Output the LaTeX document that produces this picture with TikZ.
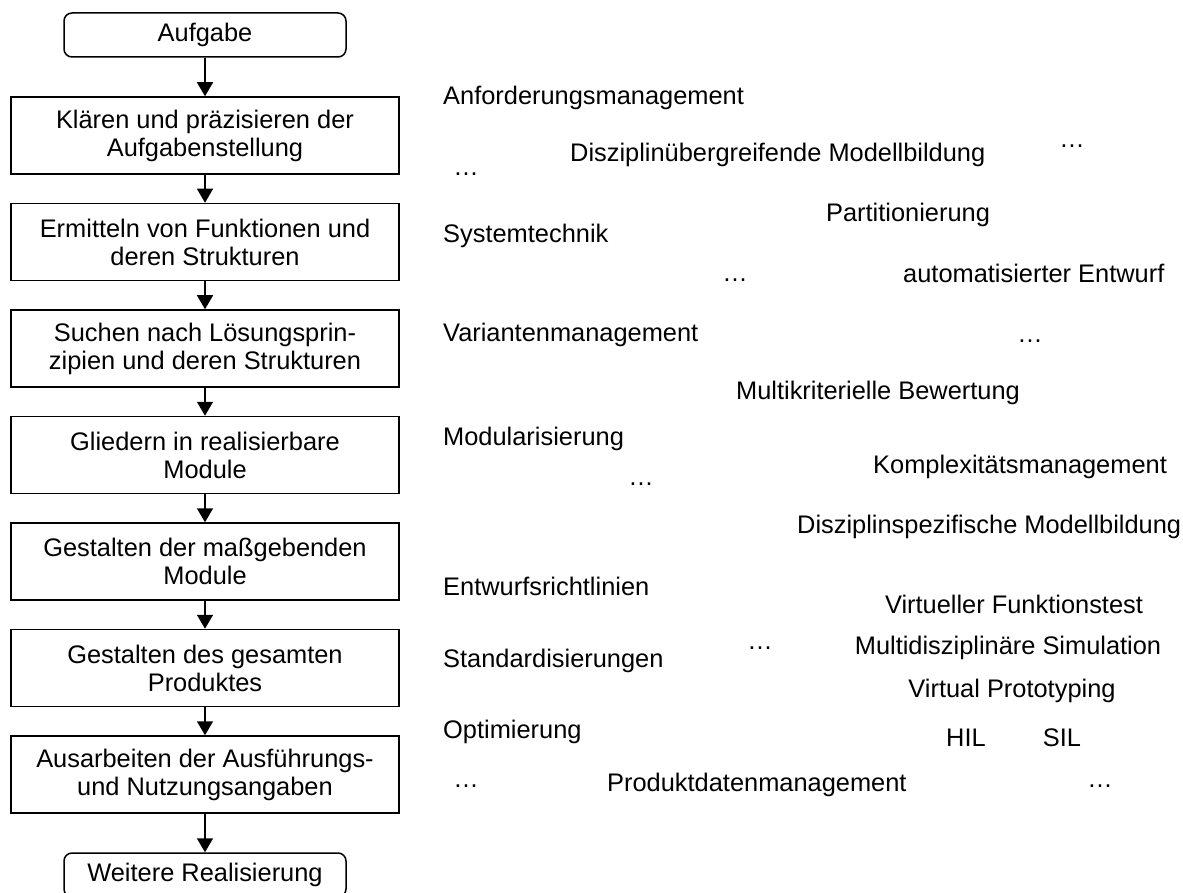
\documentclass[tikz,border=0pt]{standalone}
\usepackage{fontspec}
\setmainfont{Liberation Sans}
\usetikzlibrary{arrows.meta}
\begin{document}
\begin{tikzpicture}[x=1pt,y=-1pt,
  every node/.style={font=\fontsize{25.4}{28}\selectfont},
  stepbox/.style={draw, line width=1.5pt, minimum width=388pt, minimum height=77pt, inner sep=0pt, align=center},
  termbox/.style={draw, line width=1.5pt, rounded corners=8pt, minimum width=282pt, minimum height=44pt, inner sep=0pt},
  flow/.style={line width=1.5pt, -{Triangle[length=14pt,width=16pt]}},
  lterm/.style={anchor=base west, inner sep=0pt},
  cterm/.style={anchor=base, inner sep=0pt},
  etc/.style={anchor=base, inner sep=0pt}
]
\useasboundingbox (0,0) rectangle (1183,893);

% process chain on the left
\node[termbox] (aufgabe) at (205,35) {Aufgabe};
\node[stepbox] (s1) at (205,135.5) {Klären und präzisieren der\\Aufgabenstellung};
\node[stepbox] (s2) at (205,242) {Ermitteln von Funktionen und\\deren Strukturen};
\node[stepbox] (s3) at (205,348.5) {Suchen nach Lösungsprin-\\zipien und deren Strukturen};
\node[stepbox] (s4) at (205,455) {Gliedern in realisierbare\\Module};
\node[stepbox] (s5) at (205,561.5) {Gestalten der maßgebenden\\Module};
\node[stepbox] (s6) at (205,668) {Gestalten des gesamten\\Produktes};
\node[stepbox] (s7) at (205,774.5) {Ausarbeiten der Ausführungs-\\und Nutzungsangaben};
\node[termbox] (weiter) at (205,875) {Weitere Realisierung};

\draw[flow] (aufgabe) -- (s1);
\draw[flow] (s1) -- (s2);
\draw[flow] (s2) -- (s3);
\draw[flow] (s3) -- (s4);
\draw[flow] (s4) -- (s5);
\draw[flow] (s5) -- (s6);
\draw[flow] (s6) -- (s7);
\draw[flow] (s7) -- (weiter);

% methods and tools on the right
\node[lterm] (t1) at (443,105) {Anforderungsmanagement};
\node[lterm] (t2) at (570,162) {Disziplinübergreifende Modellbildung};
\node[etc] (e1) at (1072,148) {…};
\node[etc] (e2) at (466,175.5) {…};
\node[cterm] (t3) at (908,222) {Partitionierung};
\node[lterm] (t4) at (443,243) {Systemtechnik};
\node[lterm] (t5) at (903,283) {automatisierter Entwurf};
\node[etc] (e3) at (735,281.5) {…};
\node[lterm] (t6) at (443,341) {Variantenmanagement};
\node[etc] (e4) at (1030,342.5) {…};
\node[cterm] (t7) at (878,399) {Multikriterielle Bewertung};
\node[lterm] (t8) at (443,445) {Modularisierung};
\node[lterm] (t9) at (873,473) {Komplexitätsmanagement};
\node[etc] (e5) at (641,485.5) {…};
\node[lterm] (t10) at (797,533) {Disziplinspezifische Modellbildung};
\node[lterm] (t11) at (443,595) {Entwurfsrichtlinien};
\node[cterm] (t12) at (1014,613) {Virtueller Funktionstest};
\node[etc] (e6) at (760,649.5) {…};
\node[cterm] (t13) at (1008,654) {Multidisziplinäre Simulation};
\node[lterm] (t14) at (443,667) {Standardisierungen};
\node[cterm] (t15) at (1012,697) {Virtual Prototyping};
\node[lterm] (t16) at (443,738) {Optimierung};
\node[cterm] (t17) at (966,746) {HIL};
\node[cterm] (t18) at (1062,746) {SIL};
\node[etc] (e7) at (466,787) {…};
\node[lterm] (t19) at (607,791) {Produktdatenmanagement};
\node[etc] (e8) at (1100,787) {…};
\end{tikzpicture}
\end{document}
